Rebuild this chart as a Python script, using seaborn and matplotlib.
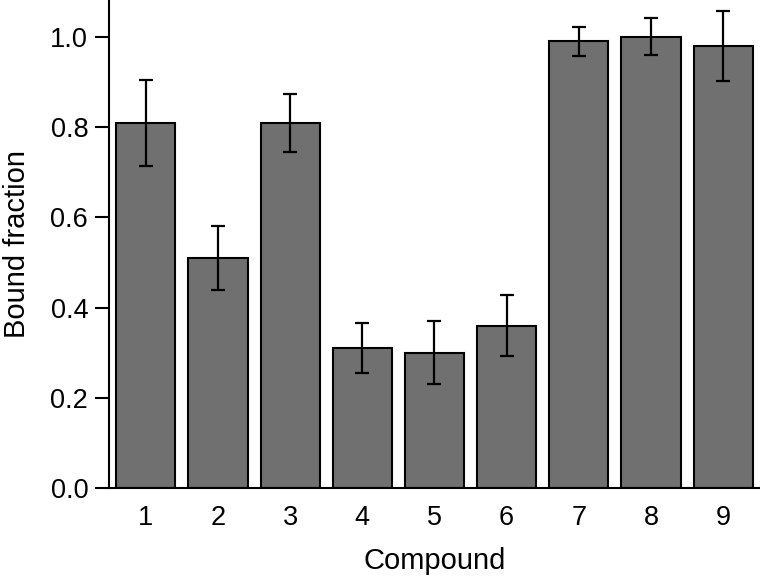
import matplotlib
matplotlib.use("Agg")
import matplotlib.pyplot as plt
import seaborn as sns
import pandas as pd

# --- Data ---
compounds = ["1", "2", "3", "4", "5", "6", "7", "8", "9"]
bound_fraction = [0.81, 0.51, 0.81, 0.31, 0.30, 0.36, 0.99, 1.00, 0.98]
errors = [0.095, 0.072, 0.064, 0.055, 0.070, 0.068, 0.032, 0.041, 0.077]

df = pd.DataFrame({"Compound": compounds, "Bound fraction": bound_fraction})

sns.set_style("ticks")
plt.rcParams["font.family"] = ["Liberation Sans", "DejaVu Sans"]
plt.rcParams["text.color"] = "black"
plt.rcParams["axes.labelcolor"] = "black"
plt.rcParams["xtick.color"] = "black"
plt.rcParams["ytick.color"] = "black"
plt.rcParams["axes.edgecolor"] = "black"

fig = plt.figure(figsize=(7.6, 5.76), dpi=100)
ax = fig.add_axes([0.1434, 0.1528, 0.8566, 0.8472])

sns.barplot(data=df, x="Compound", y="Bound fraction", color="#707070",
            saturation=1, width=0.82, edgecolor="black", linewidth=1.5,
            errorbar=None, ax=ax)
ax.errorbar(range(len(compounds)), bound_fraction, yerr=errors, fmt="none",
            ecolor="black", elinewidth=1.6, capsize=5, capthick=1.6)

ax.set_xlim(-0.51, 8.51)
ax.set_ylim(0, 1.082)
ax.set_yticks([0.0, 0.2, 0.4, 0.6, 0.8, 1.0])
ax.set_yticklabels([f"{v:.1f}" for v in ax.get_yticks()])
ax.tick_params(axis="y", length=10, width=1.5, labelsize=19.5, pad=5)
ax.tick_params(axis="x", length=0, labelsize=19.5, pad=12)
ax.set_xlabel("Compound", fontsize=21, labelpad=12)
ax.set_ylabel("Bound fraction", fontsize=21, labelpad=14)

sns.despine(ax=ax)
for side in ["left", "bottom"]:
    ax.spines[side].set_linewidth(1.5)

fig.savefig("out.png", dpi=100)
